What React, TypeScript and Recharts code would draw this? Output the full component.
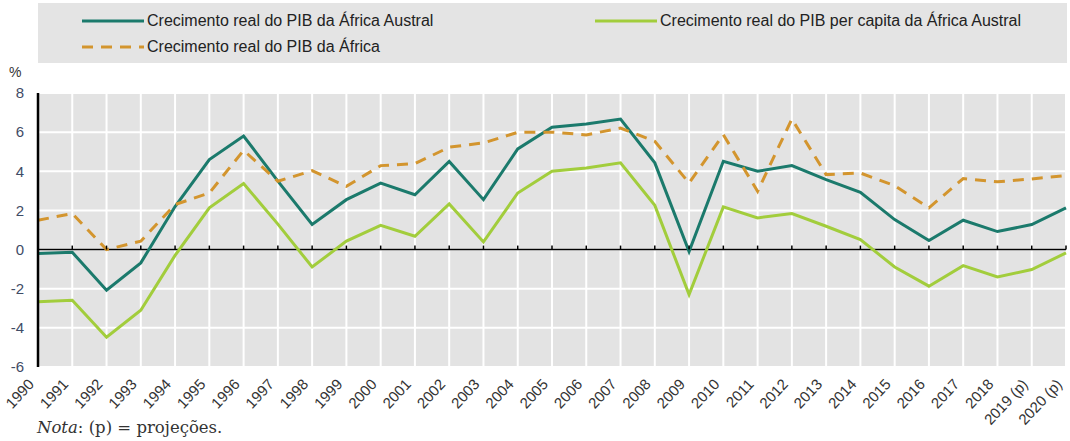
import { LineChart, Line, XAxis, YAxis, CartesianGrid, ReferenceLine, ReferenceDot } from 'recharts'

const years = [
  '1990', '1991', '1992', '1993', '1994', '1995', '1996', '1997', '1998', '1999',
  '2000', '2001', '2002', '2003', '2004', '2005', '2006', '2007', '2008', '2009',
  '2010', '2011', '2012', '2013', '2014', '2015', '2016', '2017', '2018', '2019 (p)', '2020 (p)',
]

const australGdp = [
  -0.2, -0.14, -2.08, -0.68, 2.2, 4.6, 5.8, 3.5, 1.28, 2.55,
  3.4, 2.8, 4.5, 2.55, 5.14, 6.25, 6.42, 6.67, 4.43, -0.1,
  4.51, 4.0, 4.29, 3.57, 2.93, 1.53, 0.46, 1.5, 0.92, 1.28, 2.13,
]

const australGdpPerCapita = [
  -2.67, -2.59, -4.48, -3.1, -0.3, 2.13, 3.37, 1.3, -0.89, 0.43,
  1.24, 0.68, 2.33, 0.39, 2.89, 4.0, 4.17, 4.43, 2.26, -2.3,
  2.18, 1.62, 1.84, 1.19, 0.51, -0.89, -1.87, -0.82, -1.4, -1.02, -0.17,
]

const africaGdp = [
  1.5, 1.84, 0, 0.43, 2.3, 2.89, 5.07, 3.49, 4.03, 3.23,
  4.29, 4.39, 5.23, 5.45, 5.99, 6.0, 5.86, 6.21, 5.53, 3.4,
  5.87, 2.98, 6.67, 3.83, 3.91, 3.27, 2.13, 3.63, 3.46, 3.61, 3.78,
]

const yTicks = [-6, -4, -2, 0, 2, 4, 6, 8]

const series = [
  { key: 'austral', name: 'Crecimento real do PIB da África Austral', color: '#1b7a6c', dash: undefined },
  { key: 'perCapita', name: 'Crecimento real do PIB per capita da África Austral', color: '#a2cd3c', dash: undefined },
  { key: 'africa', name: 'Crecimento real do PIB da África', color: '#d3952e', dash: '11 8' },
]

const data = years.map((year, i) => ({
  year,
  austral: australGdp[i],
  perCapita: australGdpPerCapita[i],
  africa: africaGdp[i],
}))

const font = '"Liberation Sans", Arial, sans-serif'

const YearTick = ({ x, y, payload }: any) => (
  <g transform={`translate(${x - 3},${y + 10}) rotate(-47)`}>
    <text x={0} y={0} textAnchor="end" fontSize={15} fill="#333" fontFamily={font}>
      {payload.value}
    </text>
  </g>
)

const ZeroTick = ({ cx, cy }: any) => <line x1={cx} x2={cx} y1={cy - 4} y2={cy} stroke="#000" strokeWidth={1.5} />

const legendPos = [
  { left: 82, top: 21 },
  { left: 595, top: 21 },
  { left: 82, top: 47 },
]

export default function App() {
  return (
    <div style={{ position: 'absolute', left: 0, top: 0, width: 1070, height: 441, background: '#fff', fontFamily: font }}>
      <div style={{ position: 'absolute', left: 38, top: 3, width: 1029, height: 60, background: '#e4e4e4' }} />
      {series.map((s, i) => (
        <div
          key={s.key}
          style={{ position: 'absolute', left: legendPos[i].left, top: legendPos[i].top - 10, display: 'flex', alignItems: 'center', height: 20 }}
        >
          <svg width={62} height={6} style={{ marginRight: 3 }}>
            <line x1={0} x2={62} y1={3} y2={3} stroke={s.color} strokeWidth={3} strokeDasharray={s.dash} />
          </svg>
          <span style={{ fontSize: 16, color: '#222', whiteSpace: 'nowrap' }}>{s.name}</span>
        </div>
      ))}
      <div style={{ position: 'absolute', left: 9, top: 64, fontSize: 14, color: '#333' }}>%</div>

      <LineChart width={1070} height={441} data={data} margin={{ top: 93, right: 4, left: 8, bottom: 14 }}>
        <CartesianGrid fill="#e3e3e3" stroke="#ffffff" strokeWidth={2} />
        <XAxis
          dataKey="year"
          interval={0}
          axisLine={false}
          tickLine={false}
          tick={<YearTick />}
          height={60}
          padding={{ left: 0, right: 0 }}
        />
        <YAxis
          domain={[-6, 8]}
          ticks={yTicks}
          width={30}
          axisLine={{ stroke: '#000', strokeWidth: 2.5 }}
          tickLine={false}
          tick={{ fontSize: 15, fill: '#3f4c66', fontFamily: font }}
          tickMargin={8}
        />
        <ReferenceLine y={0} stroke="#000" strokeWidth={1.5} />
        {years.map((yr) => (
          <ReferenceDot key={yr} x={yr} y={0} r={0} shape={<ZeroTick />} />
        ))}
        {series.map((s) => (
          <Line
            key={s.key}
            dataKey={s.key}
            name={s.name}
            type="linear"
            stroke={s.color}
            strokeWidth={3}
            strokeDasharray={s.dash}
            dot={false}
            isAnimationActive={false}
          />
        ))}
      </LineChart>

      <div style={{ position: 'absolute', left: 37, top: 418, fontSize: 16.5, color: '#333', fontFamily: '"DejaVu Serif", serif' }}>
        <i>Nota</i>: (p) = projeções.
      </div>
    </div>
  )
}
